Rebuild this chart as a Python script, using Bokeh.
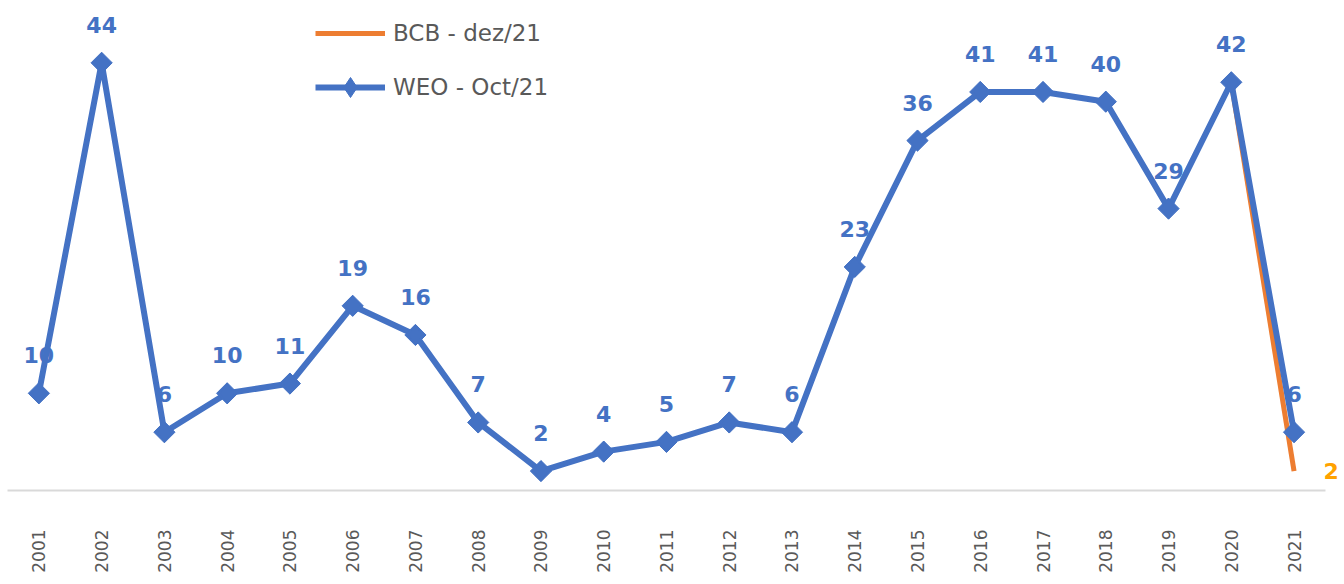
import math
from bokeh.plotting import figure
from bokeh.models import ColumnDataSource, Range1d, LabelSet, FixedTicker, BasicTickFormatter
from bokeh.embed import file_html
from bokeh.resources import INLINE
from bokeh.core.properties import value

years = [2001, 2002, 2003, 2004, 2005, 2006, 2007, 2008, 2009, 2010,
         2011, 2012, 2013, 2014, 2015, 2016, 2017, 2018, 2019, 2020, 2021]
weo = [10, 44, 6, 10, 11, 19, 16, 7, 2, 4, 5, 7, 6, 23, 36, 41, 41, 40, 29, 42, 6]
bcb_years = [2020, 2021]
bcb = [42, 2]

BLUE = "#4472C4"
ORANGE = "#ED7D31"
LABEL_ORANGE = "#FFA200"
GRAY = "#595959"
FONT = "DejaVu Sans"

weo_src = ColumnDataSource(dict(year=years, val=weo, lbl=[str(v) for v in weo]))
bcb_src = ColumnDataSource(dict(year=bcb_years, val=bcb))
bcb_lbl_src = ColumnDataSource(dict(year=[bcb_years[-1]], val=[bcb[-1]], lbl=[str(bcb[-1])]))

x_lo = years[0] - 0.5
x_hi = years[-1] + 0.74   # extra room on the right for the orange end label

p = figure(x_range=Range1d(x_lo, x_hi), y_range=Range1d(0, 50),
           width=1340, height=580, output_backend="svg", toolbar_location=None,
           min_border_left=7, min_border_right=0, min_border_top=4, min_border_bottom=90)

p.line("year", "val", source=bcb_src, line_color=ORANGE, line_width=5,
       legend_label="BCB - dez/21")
p.line("year", "val", source=weo_src, line_color=BLUE, line_width=6,
       legend_label="WEO - Oct/21")
p.scatter("year", "val", source=weo_src, marker="square", angle=math.pi / 4, size=15,
          fill_color=BLUE, line_color=BLUE)
p.scatter("year", "val", source=weo_src, marker="diamond", size=20,
          fill_color=BLUE, line_color=BLUE, legend_label="WEO - Oct/21")

p.add_layout(LabelSet(x="year", y="val", text="lbl", source=weo_src,
                      text_align="center", text_baseline="middle", y_offset=38,
                      text_font_size="22px", text_font_style="bold", text_color=BLUE,
                      text_font=value(FONT)))
p.add_layout(LabelSet(x="year", y="val", text="lbl", source=bcb_lbl_src,
                      text_align="center", text_baseline="middle", x_offset=37, y_offset=0,
                      text_font_size="22px", text_font_style="bold", text_color=LABEL_ORANGE,
                      text_font=value(FONT)))

p.yaxis.visible = False
p.xgrid.visible = False
p.ygrid.visible = False
p.outline_line_color = None

xa = p.xaxis[0]
xa.ticker = FixedTicker(ticks=years)
xa.formatter = BasicTickFormatter(use_scientific=False)
xa.bounds = (x_lo, years[-1] + 0.5)
xa.axis_line_color = "#D9D9D9"
xa.axis_line_width = 2
xa.major_tick_line_color = None
xa.minor_tick_line_color = None
xa.major_label_orientation = math.pi / 2
xa.major_label_text_font_size = "17px"
xa.major_label_text_color = GRAY
xa.major_label_text_font = FONT
xa.major_label_standoff = 33

lg = p.legend[0]
lg.location = (308, 378)
lg.border_line_color = None
lg.background_fill_alpha = 0
lg.padding = 0
lg.margin = 0
lg.spacing = 4
lg.glyph_width = 70
lg.glyph_height = 50
lg.label_height = 20
lg.label_standoff = 8
lg.label_text_font_size = "23px"
lg.label_text_color = GRAY
lg.label_text_font = FONT

open("out.html", "w").write(file_html(p, INLINE))
